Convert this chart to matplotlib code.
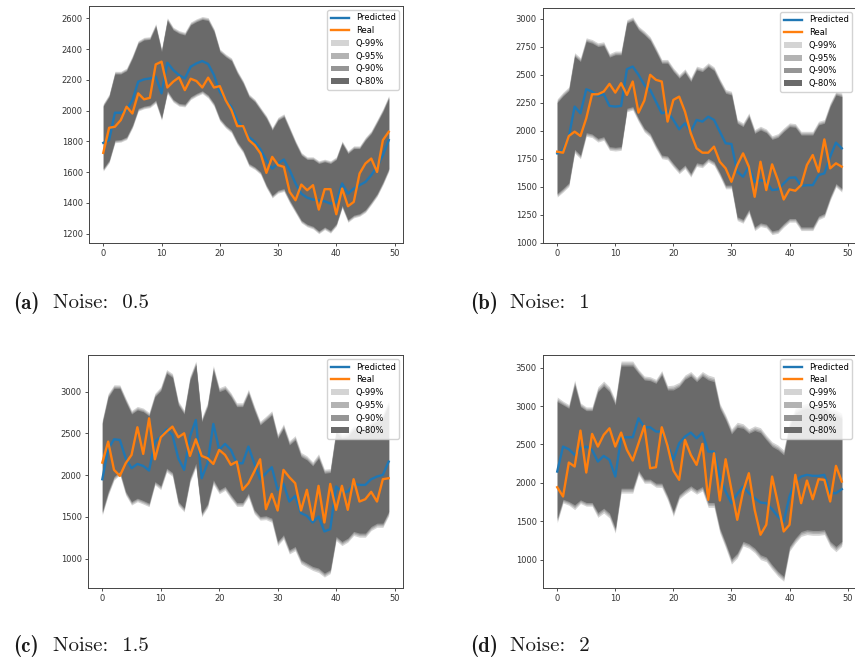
"""Quantile forecast bands for four noise levels (2x2 panels with captions)."""

import matplotlib
matplotlib.use("Agg")
import matplotlib.pyplot as plt
import numpy as np

# ---------------------------------------------------------------- data
steps = np.arange(50)

# (a) noise 0.5
pred_a = [1790, 1808, 1986, 1986, 2003, 2068, 2188, 2203, 2209, 2220,
          2112, 2311, 2264, 2231, 2209, 2285, 2307, 2322, 2303, 2231,
          2122, 2068, 2025, 1938, 1884, 1829, 1797, 1747, 1677, 1623,
          1656, 1682, 1612, 1526, 1460, 1434, 1421, 1417, 1410, 1395,
          1406, 1526, 1460, 1493, 1515, 1536, 1580, 1634, 1710, 1808]
real_a = [1725, 1888, 1895, 1938, 2025, 1981, 2112, 2073, 2083, 2300,
          2318, 2150, 2188, 2216, 2133, 2207, 2192, 2150, 2214, 2150,
          2159, 2068, 2003, 1899, 1899, 1808, 1775, 1721, 1595, 1699,
          1645, 1634, 1471, 1417, 1519, 1482, 1515, 1356, 1489, 1489,
          1326, 1493, 1378, 1406, 1591, 1656, 1688, 1601, 1808, 1862]
hi80_a = [2029, 2090, 2238, 2238, 2259, 2340, 2437, 2459, 2463, 2546,
          2383, 2585, 2524, 2502, 2491, 2557, 2578, 2593, 2585, 2513,
          2383, 2350, 2324, 2242, 2177, 2090, 2057, 2003, 1949, 1873,
          1938, 1960, 1873, 1786, 1710, 1682, 1682, 1656, 1667, 1656,
          1682, 1786, 1721, 1753, 1753, 1808, 1851, 1921, 1993, 2079]
lo80_a = [1623, 1677, 1808, 1812, 1829, 1905, 2014, 2029, 2036, 2068,
          1955, 2129, 2073, 2047, 2042, 2090, 2112, 2129, 2101, 2047,
          1949, 1905, 1873, 1797, 1743, 1656, 1634, 1601, 1515, 1449,
          1482, 1493, 1417, 1352, 1287, 1261, 1248, 1217, 1243, 1221,
          1265, 1384, 1291, 1320, 1330, 1356, 1406, 1460, 1536, 1623]

# (b) noise 1
pred_b = [1797, 1827, 1946, 2215, 2155, 2370, 2349, 2310, 2328, 2221,
          2215, 2221, 2549, 2573, 2499, 2409, 2364, 2260, 2155, 2170,
          2096, 2012, 2066, 1991, 2096, 2081, 2125, 2096, 1991, 1887,
          1881, 1633, 1588, 1678, 1543, 1558, 1543, 1469, 1475, 1528,
          1579, 1582, 1507, 1513, 1513, 1603, 1618, 1767, 1893, 1842]
real_b = [1812, 1803, 1952, 1991, 1952, 2110, 2325, 2325, 2349, 2418,
          2340, 2424, 2319, 2439, 2161, 2269, 2499, 2454, 2439, 2081,
          2275, 2304, 2170, 1976, 1842, 1803, 1803, 1857, 1722, 1663,
          1543, 1693, 1797, 1678, 1409, 1722, 1469, 1699, 1558, 1385,
          1475, 1463, 1513, 1693, 1782, 1633, 1922, 1663, 1708, 1678]
hi80_b = [2251, 2310, 2358, 2663, 2618, 2797, 2782, 2752, 2761, 2657,
          2678, 2678, 2961, 2985, 2901, 2857, 2806, 2707, 2603, 2603,
          2528, 2469, 2519, 2439, 2543, 2528, 2573, 2537, 2430, 2334,
          2319, 2066, 2036, 2125, 1976, 2006, 1982, 1922, 1940, 1991,
          2036, 2030, 1961, 1961, 1961, 2051, 2066, 2215, 2319, 2304]
lo80_b = [1439, 1484, 1534, 1833, 1782, 1982, 1970, 1931, 1946, 1857,
          1851, 1857, 2200, 2215, 2110, 2021, 1976, 1872, 1782, 1773,
          1707, 1648, 1693, 1618, 1713, 1702, 1752, 1722, 1624, 1513,
          1513, 1230, 1206, 1296, 1140, 1176, 1164, 1104, 1116, 1170,
          1215, 1215, 1140, 1140, 1140, 1236, 1260, 1409, 1528, 1484]

# (c) noise 1.5
pred_c = [1952, 2311, 2430, 2422, 2203, 2084, 2135, 2111, 2056, 2402,
          2462, 2550, 2482, 2203, 2064, 2462, 2661, 1964, 2143, 2614,
          2303, 2375, 2303, 2143, 2143, 2343, 2143, 1952, 2024, 2096,
          1825, 1896, 1685, 1753, 1546, 1514, 1434, 1506, 1327, 1355,
          1865, 1793, 1805, 1896, 1884, 1884, 1952, 1984, 2004, 2163]
real_c = [2151, 2402, 2064, 1992, 2143, 2243, 2574, 2255, 2681, 2191,
          2454, 2522, 2582, 2454, 2502, 2231, 2430, 2231, 2203, 2135,
          2303, 2243, 2124, 2163, 1825, 1904, 2044, 2191, 1594, 1777,
          1578, 2064, 1976, 1904, 1578, 1825, 1466, 1873, 1434, 1896,
          1586, 1873, 1586, 1952, 1685, 1713, 1801, 1685, 1952, 1964]
hi80_c = [2622, 2932, 3040, 3040, 2880, 2733, 2781, 2761, 2709, 2940,
          3012, 3219, 3171, 2841, 2733, 3139, 3319, 2641, 2821, 3259,
          3000, 3028, 2940, 2821, 2821, 2980, 2781, 2602, 2661, 2721,
          2442, 2562, 2363, 2422, 2223, 2183, 2112, 2203, 2024, 2032,
          2510, 2442, 2462, 2542, 2534, 2542, 2602, 2641, 2681, 2841]
lo80_c = [1566, 1805, 1984, 2044, 1805, 1685, 1725, 1697, 1665, 1924,
          1873, 2084, 2032, 1685, 1606, 1964, 2143, 1546, 1657, 1944,
          1825, 1865, 1765, 1673, 1673, 1785, 1586, 1506, 1514, 1486,
          1207, 1287, 1108, 1147, 988, 948, 908, 888, 829, 869,
          1267, 1207, 1247, 1327, 1307, 1307, 1387, 1426, 1426, 1566]

# (d) noise 2
pred_d = [2148, 2473, 2438, 2365, 2451, 2473, 2430, 2278, 2352, 2300,
          2083, 2594, 2594, 2594, 2841, 2724, 2724, 2668, 2668, 2495,
          2300, 2516, 2603, 2655, 2581, 2655, 2408, 2408, 2083, 1888,
          1736, 1858, 1953, 1866, 1801, 1745, 1736, 1658, 1563, 1498,
          1823, 2018, 2083, 2105, 2092, 2092, 2105, 1866, 1866, 1918]
real_d = [1944, 1823, 2265, 2213, 2681, 2135, 2638, 2473, 2625, 2711,
          2473, 2655, 2430, 2291, 2516, 2742, 2191, 2204, 2724, 2482,
          2161, 2040, 2560, 2365, 2235, 2508, 1780, 2386, 1771, 2308,
          1910, 1520, 1888, 2126, 1650, 1325, 1455, 2083, 1736, 1368,
          1455, 2105, 1736, 2031, 1788, 2048, 2040, 1758, 2222, 2018]
hi80_d = [3058, 3015, 2971, 3275, 2993, 2941, 2941, 3188, 3262, 3188,
          3015, 3522, 3522, 3522, 3426, 3340, 3331, 3296, 3405, 3210,
          3210, 3253, 3348, 3392, 3318, 3392, 3340, 3318, 2971, 2820,
          2638, 2724, 2711, 2646, 2681, 2655, 2560, 2473, 2430, 2365,
          2733, 2906, 2950, 2970, 2960, 2960, 2960, 2900, 2880, 2841]
lo80_d = [1541, 1788, 1758, 1715, 1780, 1745, 1745, 1615, 1671, 1606,
          1411, 1931, 1931, 1931, 2161, 2048, 2048, 1996, 1996, 1832,
          1628, 1845, 1910, 1962, 1910, 1953, 1745, 1745, 1411, 1217,
          1009, 1087, 1239, 1208, 1152, 1065, 1035, 935, 848, 783,
          1173, 1282, 1368, 1390, 1381, 1381, 1390, 1239, 1173, 1239]

captions = ["(a)", "(b)", "(c)", "(d)"]
noise_texts = ["Noise:  0.5", "Noise:  1", "Noise:  1.5", "Noise:  2"]
yticks = [
    [1200, 1400, 1600, 1800, 2000, 2200, 2400, 2600],
    [1000, 1250, 1500, 1750, 2000, 2250, 2500, 2750, 3000],
    [1000, 1500, 2000, 2500, 3000],
    [1000, 1500, 2000, 2500, 3000, 3500],
]
xticks = [0, 10, 20, 30, 40, 50]

# quantile bands: label, widening of the Q-80 half width, colour
quantiles = ["Q-99%", "Q-95%", "Q-90%", "Q-80%"]
widen = [1.08, 1.05, 1.025, 1.0]
band_colors = ["#d4d4d4", "#b3b3b3", "#959595", "#6a6a6a"]

# ---------------------------------------------------------------- layout
panels = [
    (pred_a, real_a, lo80_a, hi80_a),
    (pred_b, real_b, lo80_b, hi80_b),
    (pred_c, real_c, lo80_c, hi80_c),
    (pred_d, real_d, lo80_d, hi80_d),
]
W, H = 855, 663
axes_px = [(89, 6, 403, 243), (543, 8, 856, 243),
           (88, 355, 403, 588), (543, 355, 856, 588)]
ylims = [(1139, 2680), (996, 3096), (650, 3439), (632, 3665)]
caption_px = [(13, 303), (470, 303), (13, 646), (470, 646)]

fig = plt.figure(figsize=(W / 100, H / 100), dpi=100)

for i, (pred, real, lo80, hi80) in enumerate(panels):
    l, t, r, b = axes_px[i]
    ax = fig.add_axes([l / W, 1 - b / H, (r - l) / W, (b - t) / H])

    ax.plot(steps, pred, color="#1f77b4", lw=1.7, label="Predicted", zorder=3)
    ax.plot(steps, real, color="#ff7f0e", lw=1.7, label="Real", zorder=4)

    lo80 = np.asarray(lo80, dtype=float)
    hi80 = np.asarray(hi80, dtype=float)
    mid = (lo80 + hi80) / 2
    half = (hi80 - lo80) / 2
    for q, f, c in zip(quantiles, widen, band_colors):
        ax.fill_between(steps, mid - half * f, mid + half * f, color=c,
                        lw=0, label=q, zorder=1)

    ax.set_ylim(*ylims[i])
    ax.set_xlim(-2.45, 51.45)
    ax.set_yticks(yticks[i])
    ax.set_xticks(xticks)
    ax.tick_params(labelsize=6, length=2.5, width=0.6, colors="#333333",
                   labelcolor="#333333", pad=2)
    for spine in ax.spines.values():
        spine.set_linewidth(0.7)
        spine.set_color("#444444")
    ax.legend(loc="upper right", fontsize=6, handlelength=2.2,
              borderpad=0.4, labelspacing=0.45, framealpha=0.85)

    # caption: bold label, then roman text (Computer Modern)
    x, y = caption_px[i]
    fig.text(x / W, 1 - y / H, captions[i], family="cmb10",
             fontsize=15, va="center", ha="left", color="#1a1a1a")
    fig.text((x + 40) / W, 1 - y / H, noise_texts[i], family="cmr10",
             fontsize=15, va="center", ha="left", color="#1a1a1a")

fig.savefig("out.png", dpi=100)
